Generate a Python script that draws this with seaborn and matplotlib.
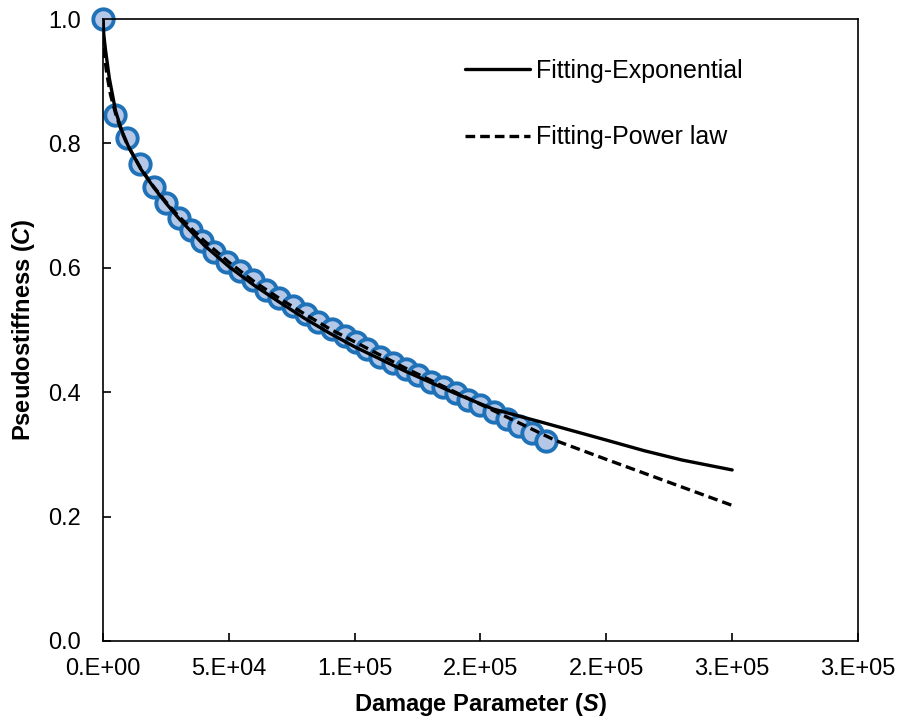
import numpy as np
import pandas as pd
import matplotlib
matplotlib.use("Agg")
import matplotlib.pyplot as plt
import seaborn as sns

# Measured data (damage parameter S, pseudostiffness C)
s_data = [0, 4800, 9400, 14700, 20300, 25000, 30000, 35000, 39500, 44000, 49300,
          54400, 59700, 64800, 69800, 75400, 80600, 85600, 90800, 96000, 100500,
          105000, 110000, 115200, 120200, 125200, 130200, 135200, 140300, 145000,
          150000, 155300, 160400, 165300, 170500, 176000]
c_data = [1.000, 0.846, 0.808, 0.767, 0.730, 0.705, 0.680, 0.660, 0.643, 0.626, 0.610,
          0.595, 0.580, 0.565, 0.551, 0.538, 0.525, 0.513, 0.502, 0.491, 0.480,
          0.469, 0.457, 0.447, 0.437, 0.427, 0.417, 0.408, 0.398, 0.388,
          0.379, 0.368, 0.357, 0.345, 0.334, 0.321]

# Fitting-Exponential curve
s_exp = [0, 300, 1000, 2500, 5000, 7500, 10000, 15000, 20000, 25000, 30000, 40000,
         50000, 60000, 70000, 80000, 90000, 100000, 120000, 140000, 155000, 175000,
         200000, 215000, 230000, 250000]
c_exp = [1.000, 0.975, 0.950, 0.905, 0.852, 0.820, 0.796, 0.759, 0.730, 0.704, 0.680, 0.637,
         0.602, 0.572, 0.545, 0.519, 0.495, 0.473, 0.434, 0.398, 0.373, 0.351,
         0.323, 0.306, 0.291, 0.275]

# Fitting-Power law curve
s_pow = [0, 200, 800, 1500, 3000, 5000, 7500, 10000, 15000, 20000, 25000, 30000, 40000,
         50000, 60000, 70000, 80000, 90000, 100000, 120000, 140000, 160000, 180000,
         200000, 225000, 250000]
c_pow = [1.000, 0.965, 0.935, 0.912, 0.878, 0.848, 0.818, 0.795, 0.760, 0.731, 0.706, 0.683, 0.644,
         0.609, 0.578, 0.551, 0.526, 0.502, 0.481, 0.439, 0.400, 0.361, 0.322,
         0.292, 0.255, 0.218]

x_ticks = [0, 50000, 100000, 150000, 200000, 250000, 300000]
x_tick_labels = ["0.E+00", "5.E+04", "1.E+05", "2.E+05", "2.E+05", "3.E+05", "3.E+05"]
y_ticks = [0.0, 0.2, 0.4, 0.6, 0.8, 1.0]
y_tick_labels = ["0.0", "0.2", "0.4", "0.6", "0.8", "1.0"]

sns.set_theme(style="white")
plt.rcParams["font.family"] = ["Liberation Sans", "DejaVu Sans"]
plt.rcParams["mathtext.fontset"] = "custom"
plt.rcParams["mathtext.it"] = "Liberation Sans:bold:italic"
plt.rcParams["mathtext.rm"] = "Liberation Sans:bold"
plt.rcParams["text.color"] = "black"
plt.rcParams["axes.labelcolor"] = "black"
plt.rcParams["xtick.color"] = "black"
plt.rcParams["ytick.color"] = "black"

fig = plt.figure(figsize=(9.02, 7.26), dpi=100)
ax = fig.add_axes([0.1142, 0.1171, 0.8370, 0.8567])

df_data = pd.DataFrame({"S": s_data, "C": c_data})
df_exp = pd.DataFrame({"S": s_exp, "C": c_exp})
df_pow = pd.DataFrame({"S": s_pow, "C": c_pow})

sns.scatterplot(data=df_data, x="S", y="C", ax=ax, s=215, color="#B4C7E7",
                edgecolor="#1F72B8", linewidth=2.8, zorder=2, clip_on=False, legend=False)
sns.lineplot(data=df_exp, x="S", y="C", ax=ax, color="black", linewidth=2.4,
             zorder=3, label="Fitting-Exponential", sort=False)
sns.lineplot(data=df_pow, x="S", y="C", ax=ax, color="black", linewidth=2.4,
             linestyle=(0, (2.9, 1.5)), zorder=3, label="Fitting-Power law", sort=False)

ax.set_xlim(0, 300000)
ax.set_ylim(0, 1.0)
ax.set_xticks(x_ticks)
ax.set_xticklabels(x_tick_labels)
ax.set_yticks(y_ticks)
ax.set_yticklabels(y_tick_labels)
ax.tick_params(axis="x", direction="in", length=6, width=1.2, colors="black",
               labelsize=17, pad=12, bottom=True, top=False)
ax.tick_params(axis="y", direction="in", length=6, width=1.2, colors="black",
               labelsize=17, pad=16, left=True, right=False)
for sp in ax.spines.values():
    sp.set_visible(True)
    sp.set_color("black")
    sp.set_linewidth(1.2)

ax.set_xlabel(r"Damage Parameter ($S$)", fontsize=17, fontweight="bold", labelpad=8)
ax.set_ylabel(r"Pseudostiffness ($C$)", fontsize=17, fontweight="bold", labelpad=8)

leg = ax.legend(loc="upper left", bbox_to_anchor=(0.4795, 0.936), frameon=False,
                fontsize=18, handlelength=2.6, handletextpad=0.25,
                labelspacing=1.7, borderpad=0, borderaxespad=0)

fig.savefig("out.png", dpi=100)
